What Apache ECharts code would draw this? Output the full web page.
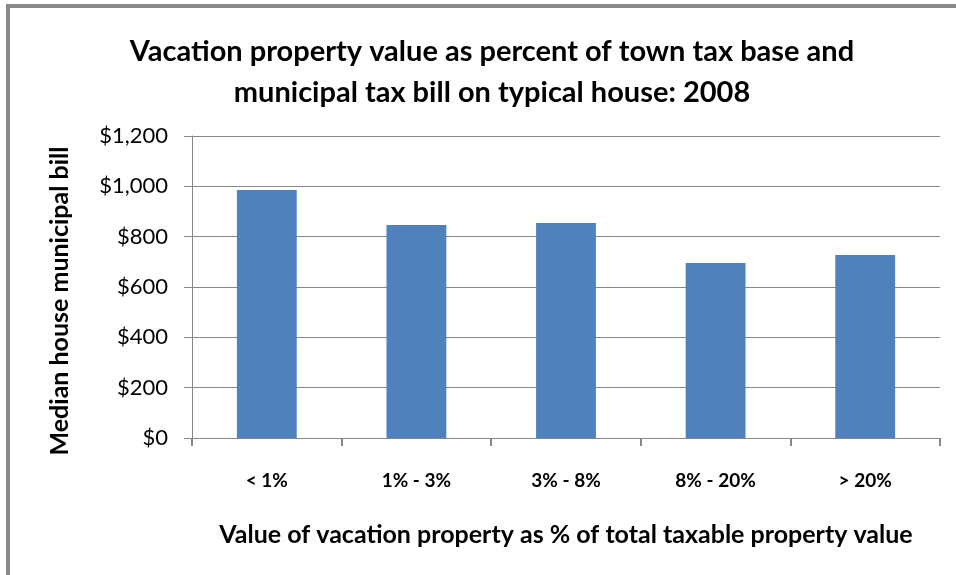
<!DOCTYPE html>
<html>
<head>
<meta charset="utf-8">
<script src="https://cdn.jsdelivr.net/npm/echarts@6/dist/echarts.min.js"></script>
<style>
  html, body { margin: 0; padding: 0; background: #fff; }
  #chart { position: absolute; left: 0; top: 0; width: 956px; height: 575px; }
  .frame {
    position: absolute; left: 6px; top: 4px; width: 980px; height: 600px;
    border-top: 4px solid #8a8a8a; border-left: 4px solid #8a8a8a;
    pointer-events: none;
  }
</style>
</head>
<body>
<div id="chart"></div>
<div class="frame"></div>
<script>
var categories = ["< 1%", "1% - 3%", "3% - 8%", "8% - 20%", "> 20%"];
var billValues = [985, 846, 854, 695, 727];
var yTicks = { min: 0, max: 1200, interval: 200 };

var fontFam = "Lato, 'Open Sans', sans-serif";
var chart = echarts.init(document.getElementById("chart"));
var option = {
  animation: false,
  title: {
    text: "Vacation property value as percent of town tax base and\nmunicipal tax bill on typical house: 2008",
    left: 487,
    textAlign: "center",
    top: 26,
    textStyle: {
      fontFamily: fontFam,
      fontWeight: "bold",
      fontSize: 29,
      lineHeight: 41,
      color: "#000"
    }
  },
  grid: { left: 192, right: 16, top: 136, bottom: 137 },
  xAxis: {
    type: "category",
    data: categories,
    name: "Value of vacation property as % of total taxable property value",
    nameLocation: "middle",
    nameGap: 84,
    nameTextStyle: { fontFamily: fontFam, fontWeight: "bold", fontSize: 25, color: "#000" },
    axisLine: { lineStyle: { color: "#868686", width: 1 } },
    axisTick: { show: true, length: 8, lineStyle: { color: "#868686", width: 2 } },
    axisLabel: { margin: 33, fontFamily: fontFam, fontWeight: "bold", fontSize: 19, color: "#000" },
    splitLine: { show: false }
  },
  yAxis: {
    type: "value",
    min: yTicks.min,
    max: yTicks.max,
    interval: yTicks.interval,
    name: "Median house municipal bill",
    nameLocation: "middle",
    nameGap: 120,
    nameTextStyle: {
      fontFamily: fontFam, fontWeight: "bold", fontSize: 25, color: "#000",
      padding: [0, 28, 0, 0] // nudge the label down a bit
    },
    axisLine: { show: true, lineStyle: { color: "#868686", width: 1 } },
    axisTick: { show: true, length: 8, lineStyle: { color: "#868686" } },
    axisLabel: {
      margin: 24,
      fontFamily: fontFam,
      fontSize: 22,
      color: "#000",
      formatter: function (v) { return "$" + v.toLocaleString("en-US"); }
    },
    splitLine: { lineStyle: { color: "#868686", width: 1 } }
  },
  series: [
    {
      type: "bar",
      data: billValues,
      barWidth: "40%",
      itemStyle: { color: "#4F81BD" }
    }
  ]
};
chart.setOption(option);
</script>
</body>
</html>
